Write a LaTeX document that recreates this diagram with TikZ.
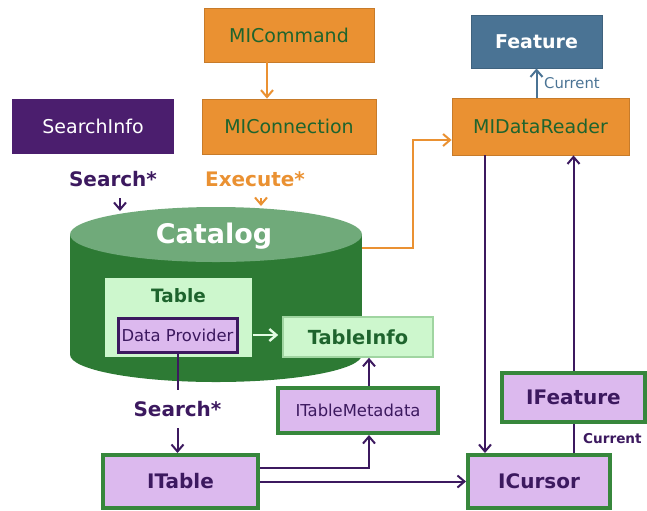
\documentclass[tikz,border=0pt]{standalone}
\usepackage{fontspec}
\setmainfont{DejaVu Sans}
\usetikzlibrary{arrows.meta}
\definecolor{mporange}{RGB}{234,145,50}
\definecolor{mptext}{RGB}{30,100,45}
\definecolor{mppurple}{RGB}{75,30,110}
\definecolor{mpline}{RGB}{60,25,95}
\definecolor{mpdark}{RGB}{45,122,52}
\definecolor{mptop}{RGB}{112,170,122}
\definecolor{mplight}{RGB}{205,247,205}
\definecolor{mplilac}{RGB}{220,185,238}
\definecolor{mpborder}{RGB}{55,135,60}
\definecolor{mpblue}{RGB}{74,115,148}

\begin{document}
\begin{tikzpicture}[x=0.5pt, y=-0.5pt,
    >={Straight Barb[length=3.5pt,width=6pt]},
    orangebox/.style={fill=mporange, draw=mporange!85!black, text=mptext, inner sep=0pt,
        font=\fontsize{9.5}{11}\selectfont},
    lilacbox/.style={fill=mplilac, draw=mpborder, line width=2pt, text=mpline, inner sep=0pt},
    greenbox/.style={fill=mplight, inner sep=0pt, text=mptext},
    lbl/.style={font=\bfseries\fontsize{10}{12}\selectfont, minimum height=19pt, inner sep=1pt},
    conn/.style={mpline, line width=1pt}]
    \useasboundingbox (0,0) rectangle (647,510);
    % Catalog cylinder
    \fill[mpdark] (216,354.5) ellipse[x radius=73pt, y radius=13.75pt];
    \fill[mpdark] (70,234.5) rectangle (362,354.5);
    \fill[mptop] (216,234.5) ellipse[x radius=73pt, y radius=13.75pt];
    \node[white, font=\bfseries\fontsize{13.5}{16}\selectfont] (catalog) at (214,236) {Catalog};
    \coordinate (searchtop) at (120,211);
    \coordinate (exectop) at (261,206);
    \coordinate (catright) at (362,248);

    % top row
    \node[orangebox, minimum width=85pt, minimum height=27pt] (command) at (289,35) {MICommand};
    \node[orangebox, minimum width=87pt, minimum height=27.5pt] (connection) at (289,126.5) {MIConnection};
    \node[fill=mppurple, text=white, inner sep=0pt, minimum width=81pt, minimum height=27.5pt,
        font=\fontsize{9.5}{11}\selectfont] (searchinfo) at (93,126.5) {SearchInfo};
    \node[orangebox, minimum width=88.5pt, minimum height=28.5pt] (reader) at (540.5,126.5) {MIDataReader};
    \node[fill=mpblue, draw=mpblue!85!black, text=white, inner sep=0pt, minimum width=65.5pt,
        minimum height=26.5pt, font=\bfseries\fontsize{9.5}{11}\selectfont] (feature) at (536.5,41.5) {Feature};

    \node[lbl, text=mpline] (search1) at (113,179) {Search*};
    \node[lbl, text=mporange] (execute) at (255,179) {Execute*};

    % inside the catalog
    \node[greenbox, minimum width=73.5pt, minimum height=39.5pt,
        label={[anchor=north, yshift=-2pt, text=mptext, font=\bfseries\fontsize{9.2}{11}\selectfont]north:Table}]
        (table) at (178.5,317.5) {};
    \node[fill=mplilac, draw=mpline, line width=1.5pt, text=mpline, inner sep=0pt, minimum width=59.5pt,
        minimum height=17pt, font=\fontsize{8.2}{10}\selectfont] (provider) at (177.5,335) {Data Provider};
    \node[greenbox, draw=mplight!70!mpborder, line width=0.8pt, minimum width=75pt, minimum height=20pt,
        font=\bfseries\fontsize{9.7}{11}\selectfont] (tableinfo) at (358,337) {TableInfo};

    % interfaces
    \node[lilacbox, minimum width=80pt, minimum height=22.5pt, font=\fontsize{8.2}{10}\selectfont]
        (metadata) at (358,410.5) {ITableMetadata};
    \node[lilacbox, minimum width=77.5pt, minimum height=26.5pt, font=\bfseries\fontsize{10}{12}\selectfont]
        (itable) at (180.5,481.5) {ITable};
    \node[lilacbox, minimum width=71pt, minimum height=26.5pt, font=\bfseries\fontsize{10}{12}\selectfont]
        (cursor) at (539,481.5) {ICursor};
    \node[lilacbox, minimum width=71.5pt, minimum height=24.5pt, font=\bfseries\fontsize{10}{12}\selectfont]
        (ifeature) at (573.5,397.5) {IFeature};
    \node[lbl, text=mpline] (search2) at (177.5,409) {Search*};

    % connectors
    \draw[->, mporange, line width=1pt] ([xshift=-11pt]command.south) -- ([xshift=-11pt]connection.north);
    \draw[->, conn] (search1.south -| searchtop) -- (searchtop);
    \draw[->, mporange, line width=1pt] (execute.south -| exectop) -- (exectop);
    \draw[->, mporange, line width=1pt] (catright) -- ++(51,0) |- ([yshift=-6.75pt]reader.west);
    \draw[->, mpblue, line width=1pt] (reader.north -| feature.south) -- (feature.south)
        node[midway, right, font=\fontsize{7.4}{9}\selectfont] {Current};
    \draw[->, mplight!55!white, line width=1.2pt, shorten <=7pt, shorten >=2pt]
        (provider.east) -- (provider.east -| tableinfo.west);
    \draw[conn] (provider.south) -- (search2.north);
    \draw[->, conn] (search2.south) -- (search2.south |- itable.north);
    \draw[->, conn] ([yshift=6.75pt]itable.east) -| ([xshift=5.5pt]metadata.south);
    \draw[->, conn] ([xshift=5.5pt]metadata.north) -- ([xshift=5.5pt]metadata.north |- tableinfo.south);
    \draw[->, conn] (itable.east) -- (cursor.west);
    \draw[->, conn] ([xshift=-27.75pt]reader.south) -- ([xshift=-27.75pt]reader.south |- cursor.north);
    \draw[->, conn] (ifeature.north) -- (ifeature.north |- reader.south);
    \draw[conn] (ifeature.south) -- (ifeature.south |- cursor.north)
        node[midway, right=1pt, text=mpline, font=\bfseries\fontsize{6.8}{9}\selectfont] {Current};
\end{tikzpicture}
\end{document}
